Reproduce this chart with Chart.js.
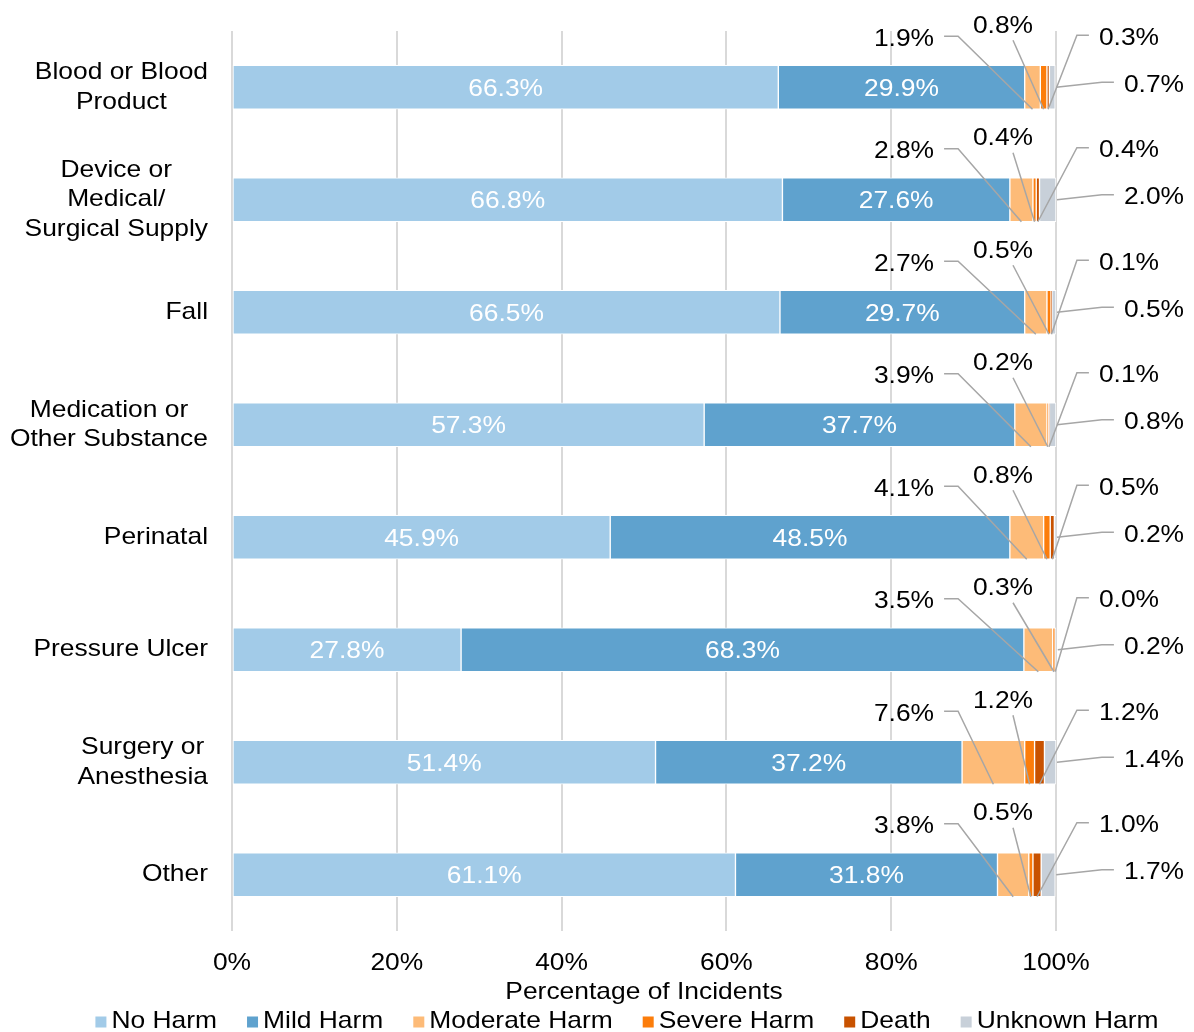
<!DOCTYPE html>
<html lang="en">
<head>
<meta charset="UTF-8">
<title>Harm by incident type</title>
<script src="https://cdn.jsdelivr.net/npm/chart.js"></script>
<style>
  html, body { margin: 0; padding: 0; background: #fff; }
  #wrap { width: 1194px; height: 1032px; }
</style>
</head>
<body>
<div id="wrap"><canvas id="harmChart"></canvas></div>
<script>
const categories = [
  ['Blood or Blood', 'Product'],
  ['Device or', 'Medical/', 'Surgical Supply'],
  ['Fall'],
  ['Medication or', 'Other Substance'],
  ['Perinatal'],
  ['Pressure Ulcer'],
  ['Surgery or', 'Anesthesia'],
  ['Other']
];
const seriesNames = ['No Harm', 'Mild Harm', 'Moderate Harm', 'Severe Harm', 'Death', 'Unknown Harm'];
const noHarm      = [66.3, 66.8, 66.5, 57.3, 45.9, 27.8, 51.4, 61.1];
const mildHarm    = [29.9, 27.6, 29.7, 37.7, 48.5, 68.3, 37.2, 31.8];
const moderate    = [1.9, 2.8, 2.7, 3.9, 4.1, 3.5, 7.6, 3.8];
const severe      = [0.8, 0.4, 0.5, 0.2, 0.8, 0.3, 1.2, 0.5];
const death       = [0.3, 0.4, 0.1, 0.1, 0.5, 0.0, 1.2, 1.0];
const unknownHarm = [0.7, 2.0, 0.5, 0.8, 0.2, 0.2, 1.4, 1.7];
const xTicks = [0, 20, 40, 60, 80, 100];
const xTitle = 'Percentage of Incidents';

const colors = ['#a2cbe8', '#5fa2ce', '#fdbb78', '#fc7d0b', '#c85200', '#c8d0d9'];
const FONT = '"Liberation Sans", Arial, sans-serif';
const STRETCH = 1.1; // the original text is set a little wide
const allSeries = [noHarm, mildHarm, moderate, severe, death, unknownHarm];

// where the callouts for the thin segments sit, relative to the 100% end and bar centre
const callouts = [
  null,
  null,
  { dx: -152, dy: -48, hook: 'left' },
  { dx: -53, dy: -61, hook: 'below' },
  { dx: 73, dy: -49, hook: 'right' },
  { dx: 98, dy: -2, hook: 'right', toSide: true }
];

function textW(ctx, t) { return ctx.measureText(t).width * STRETCH; }
function drawText(ctx, t, x, y, align) {
  ctx.save();
  ctx.translate(x, y);
  ctx.scale(STRETCH, 1);
  ctx.textAlign = align || 'center';
  ctx.textBaseline = 'middle';
  ctx.fillText(t, 0, 0);
  ctx.restore();
}

const barLabels = {
  id: 'barLabels',
  afterDatasetsDraw(chart) {
    const ctx = chart.ctx;
    const xEnd = chart.scales.x.getPixelForValue(100);
    ctx.save();
    ctx.font = '24px ' + FONT;
    chart.data.datasets.forEach((ds, di) => {
      const meta = chart.getDatasetMeta(di);
      meta.data.forEach((bar, i) => {
        const txt = ds.data[i].toFixed(1) + '%';
        const x0 = Math.min(bar.x, bar.base), x1 = Math.max(bar.x, bar.base);
        const bottom = bar.y + bar.height / 2;
        if (di < 2) {
          ctx.fillStyle = '#fff';
          drawText(ctx, txt, (x0 + x1) / 2, bar.y + 2);
          return;
        }
        const c = callouts[di];
        const lx = xEnd + c.dx, ly = bar.y + c.dy;
        ctx.fillStyle = '#000';
        drawText(ctx, txt, lx, ly);
        const w = textW(ctx, txt);
        const tx = c.toSide ? x1 + 1 : (x0 + x1) / 2;
        const ty = c.toSide ? bar.y : bottom;
        ctx.strokeStyle = '#a6a6a6';
        ctx.lineWidth = 1.5;
        ctx.beginPath();
        if (c.hook === 'left') {
          const sx = lx + w / 2 + 10;
          ctx.moveTo(sx, ly - 3);
          ctx.lineTo(sx + 14, ly - 3);
        } else if (c.hook === 'right') {
          const sx = lx - w / 2 - 10;
          ctx.moveTo(sx, ly - 3);
          ctx.lineTo(sx - 12, ly - 3);
        } else {
          ctx.moveTo(lx + 10, ly + 14);
        }
        ctx.lineTo(tx, ty);
        ctx.stroke();
      });
    });
    ctx.restore();
  }
};

const axisText = {
  id: 'axisText',
  afterDraw(chart) {
    const ctx = chart.ctx;
    const y = chart.scales.y, x = chart.scales.x;
    const area = chart.chartArea;
    ctx.save();
    ctx.font = '24px ' + FONT;
    ctx.fillStyle = '#000';

    // category labels: block right-aligned, lines centred
    const right = area.left - 24;
    const lh = 29.5;
    categories.forEach((lines, i) => {
      const cy = y.getPixelForValue(i);
      const w = Math.max(...lines.map(l => textW(ctx, l)));
      lines.forEach((l, k) => {
        drawText(ctx, l, right - w / 2, cy + (k - (lines.length - 1) / 2) * lh);
      });
    });

    // x tick labels and title
    xTicks.forEach(v => drawText(ctx, v + '%', x.getPixelForValue(v), area.bottom + 32));
    drawText(ctx, xTitle, (area.left + area.right) / 2, area.bottom + 61);

    // legend
    const box = 11, gapBox = 5, gapItem = 30;
    const widths = seriesNames.map(n => box + gapBox + textW(ctx, n));
    const total = widths.reduce((a, b) => a + b, 0) + gapItem * (widths.length - 1);
    let lx = 627 - total / 2;
    const ly = area.bottom + 90;
    seriesNames.forEach((n, k) => {
      ctx.fillStyle = colors[k];
      ctx.fillRect(lx, ly - box / 2 + 1, box, box);
      ctx.fillStyle = '#000';
      drawText(ctx, n, lx + box + gapBox, ly, 'left');
      lx += widths[k] + gapItem;
    });
    ctx.restore();
  }
};

new Chart(document.getElementById('harmChart'), {
  type: 'bar',
  data: {
    labels: categories.map(c => c.join(' ')),
    datasets: seriesNames.map((name, k) => ({
      label: name,
      data: allSeries[k],
      backgroundColor: colors[k],
      borderColor: '#fff',
      borderWidth: 1,
      borderSkipped: false,
      barThickness: 44
    }))
  },
  options: {
    indexAxis: 'y',
    responsive: true,
    maintainAspectRatio: false,
    animation: false,
    layout: { padding: { left: 0, right: 138, top: 31, bottom: 101 } },
    scales: {
      x: {
        stacked: true,
        min: 0,
        max: 100,
        afterBuildTicks(scale) { scale.ticks = xTicks.map(v => ({ value: v })); },
        afterFit(scale) { scale.height = 0; },
        ticks: { display: false },
        grid: { color: '#d9d9d9', lineWidth: 2, drawTicks: false },
        border: { display: false }
      },
      y: {
        stacked: true,
        afterFit(scale) { scale.width = 232; },
        ticks: { display: false },
        grid: { display: false },
        border: { display: false }
      }
    },
    plugins: {
      legend: { display: false },
      tooltip: { enabled: false }
    }
  },
  plugins: [barLabels, axisText]
});
</script>
</body>
</html>
